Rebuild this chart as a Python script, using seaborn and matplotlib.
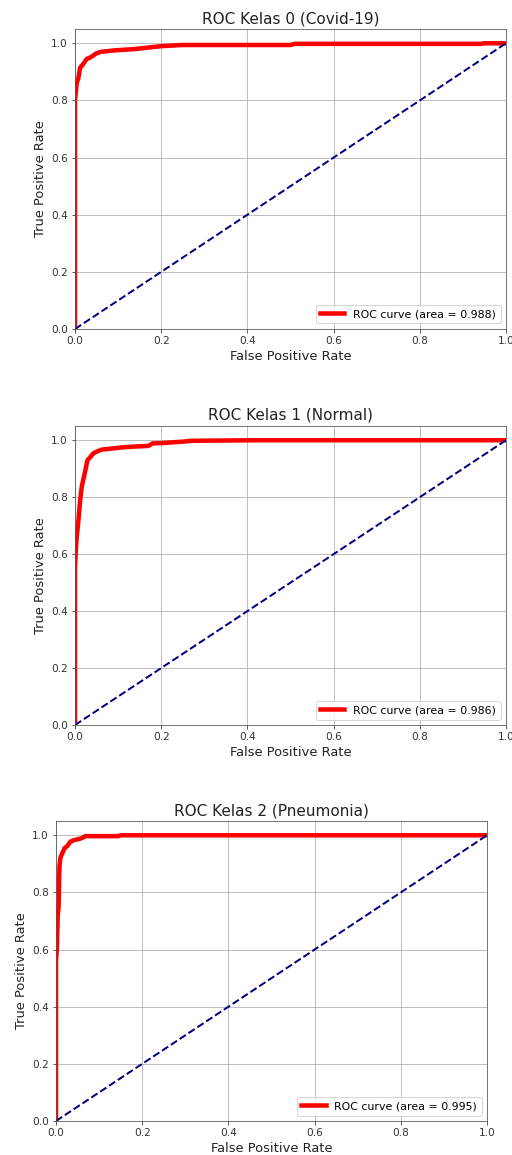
import matplotlib
matplotlib.use("Agg")
import matplotlib.pyplot as plt
import seaborn as sns

# ROC points (FPR, TPR) for each class
fpr_covid = [0, 0, 0.002, 0.004, 0.008, 0.012, 0.018, 0.027, 0.035, 0.05, 0.06, 0.09, 0.14, 0.2, 0.25, 0.5, 0.51, 0.94, 0.95, 1.0]
tpr_covid = [0, 0.80, 0.83, 0.86, 0.88, 0.915, 0.925, 0.945, 0.95, 0.965, 0.97, 0.975, 0.98, 0.99, 0.994, 0.994, 0.998, 0.998, 1.0, 1.0]

fpr_normal = [0, 0, 0.002, 0.004, 0.008, 0.012, 0.016, 0.022, 0.029, 0.035, 0.042, 0.05, 0.062, 0.08, 0.11, 0.14, 0.17, 0.18, 0.2, 0.25, 0.27, 0.42, 1.0]
tpr_normal = [0, 0.55, 0.62, 0.66, 0.72, 0.79, 0.84, 0.88, 0.93, 0.94, 0.953, 0.96, 0.967, 0.97, 0.975, 0.978, 0.98, 0.989, 0.99, 0.995, 0.998, 1.0, 1.0]

fpr_pneu = [0, 0, 0.002, 0.004, 0.006, 0.008, 0.01, 0.014, 0.02, 0.026, 0.033, 0.04, 0.05, 0.06, 0.068, 0.145, 0.15, 1.0]
tpr_pneu = [0, 0.56, 0.60, 0.72, 0.75, 0.89, 0.92, 0.935, 0.955, 0.962, 0.977, 0.982, 0.986, 0.99, 0.997, 0.997, 1.0, 1.0]

titles = ["ROC Kelas 0 (Covid-19)", "ROC Kelas 1 (Normal)", "ROC Kelas 2 (Pneumonia)"]
aucs = [0.988, 0.986, 0.995]
curves = [(fpr_covid, tpr_covid), (fpr_normal, tpr_normal), (fpr_pneu, tpr_pneu)]

W, H = 512, 1155
fig = plt.figure(figsize=(W / 72, H / 72), dpi=72)

# axes boxes in pixels: left, top, right, bottom
boxes = [(75, 29, 506, 329), (75, 426, 506, 725), (56, 821, 487, 1121)]

for (l, t, r, b), title, auc, (fpr, tpr) in zip(boxes, titles, aucs, curves):
    ax = fig.add_axes([l / W, (H - b) / H, (r - l) / W, (b - t) / H])
    sns.lineplot(x=fpr, y=tpr, sort=False, estimator=None, color="red", lw=4.5,
                 label="ROC curve (area = %0.3f)" % auc, ax=ax)
    sns.lineplot(x=[0, 1], y=[0, 1], sort=False, estimator=None, color="navy",
                 lw=2, linestyle="--", ax=ax)
    ax.set_xlim(0.0, 1.0)
    ax.set_ylim(0.0, 1.05)
    ax.set_xticks([0, 0.2, 0.4, 0.6, 0.8, 1.0])
    ax.set_yticks([0, 0.2, 0.4, 0.6, 0.8, 1.0])
    ax.grid(True, color="#b0b0b0", lw=0.8)
    ax.set_axisbelow(True)
    ax.tick_params(labelsize=10.5, colors="#333333", labelcolor="#333333")
    for s in ax.spines.values():
        s.set_color("#555555")
    ax.set_xlabel("False Positive Rate", fontsize=13, color="#222222")
    ax.set_ylabel("True Positive Rate", fontsize=13, color="#222222")
    ax.set_title(title, fontsize=15.3, color="#222222")
    ax.legend(loc="lower right", fontsize=11, handlelength=2.2)

fig.savefig("out.png", dpi=72)
